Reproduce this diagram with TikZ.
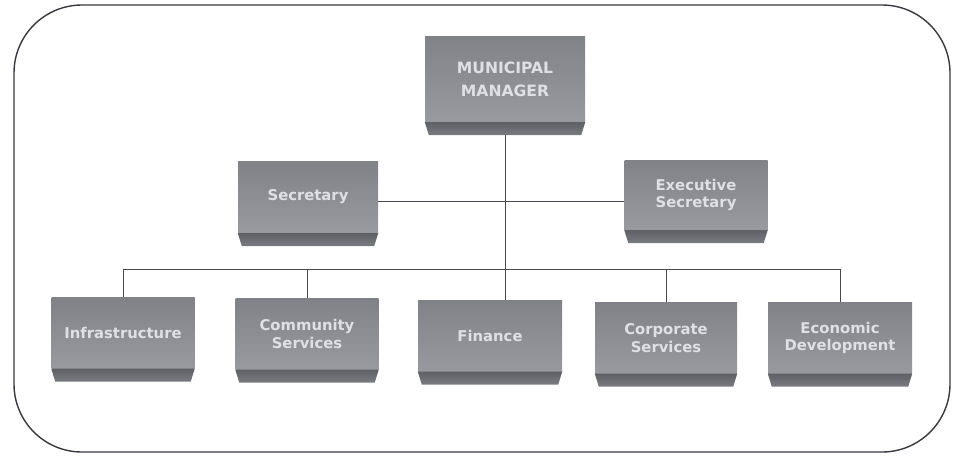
\documentclass[tikz,border=0pt]{standalone}
\usepackage{fontspec}
\newfontfamily\boxfont{DejaVu Sans}
\usetikzlibrary{backgrounds}
\definecolor{facetop}{RGB}{128,130,136}
\definecolor{facebot}{RGB}{152,154,159}
\definecolor{slabtop}{RGB}{94,96,101}
\definecolor{slabbot}{RGB}{122,124,129}
\definecolor{boxtext}{RGB}{222,224,228}
\definecolor{linecol}{RGB}{70,72,78}
\definecolor{framecol}{RGB}{55,57,62}
\tikzset{
  orgbox/.style={rectangle, inner sep=0pt, align=center, text=boxtext,
    top color=facetop, bottom color=facebot,
    font=\boxfont\bfseries\fontsize{14.8}{17.5}\selectfont},
  conn/.style={draw=linecol, line width=0.8pt},
  frame/.style={draw=framecol, line width=1.4pt, rounded corners=68pt},
}
\newcommand{\slab}[1]{%
  \shade[top color=slabtop, bottom color=slabbot]
    (#1.south west) -- (#1.south east) -- ([xshift=-4pt,yshift=-13pt]#1.south east)
    -- ([xshift=4pt,yshift=-13pt]#1.south west) -- cycle;}
\begin{document}
\begin{tikzpicture}[x=1pt,y=-1pt]
\useasboundingbox (0,0) rectangle (953,459);
\draw[frame] (14,5) rectangle (950,452);

% top level
\node[orgbox, minimum width=160pt, minimum height=86pt,
      font=\boxfont\bfseries\fontsize{15.6}{23}\selectfont] (mm) at (505,79) {MUNICIPAL\\MANAGER};
% second level
\node[orgbox, minimum width=140pt, minimum height=72pt] (sec) at (308,197) {Secretary};
\node[orgbox, minimum width=143pt, minimum height=70pt] (exec) at (696,195) {Executive\\Secretary};
% departments
\node[orgbox, minimum width=143pt, minimum height=71pt] (inf) at (123,333) {Infrastructure};
\node[orgbox, minimum width=143pt, minimum height=71pt] (com) at (307,334) {Community\\Services};
\node[orgbox, minimum width=144pt, minimum height=71pt] (fin) at (490,336) {Finance};
\node[orgbox, minimum width=142pt, minimum height=71pt] (cor) at (666,338) {Corporate\\Services};
\node[orgbox, minimum width=144pt, minimum height=71pt] (eco) at (840,338) {Economic\\Development};

\foreach \n in {mm,sec,exec,inf,com,fin,cor,eco} {\slab{\n}}

\coordinate (mid) at (0,201);
\coordinate (bus) at (0,269);
\begin{scope}[on background layer]
  \draw[conn] (mm.south) -- (mm.south |- fin.north);
  \draw[conn] (sec.east |- mid) -- (exec.west |- mid);
  \draw[conn] (inf.north) -- (inf.north |- bus) -- (eco.north |- bus) -- (eco.north);
  \draw[conn] (com.north) -- (com.north |- bus);
  \draw[conn] (cor.north) -- (cor.north |- bus);
\end{scope}
\end{tikzpicture}
\end{document}
